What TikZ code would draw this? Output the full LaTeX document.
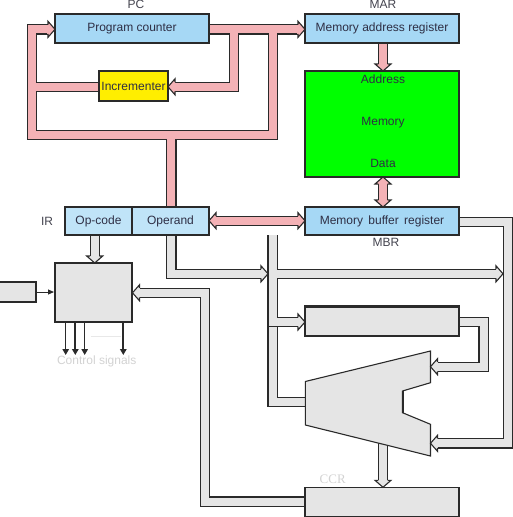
\documentclass[tikz,border=0pt]{standalone}
\usepackage{fontspec}
\setmainfont{Liberation Sans}
\newfontfamily\ccrfont{Liberation Serif}
\usetikzlibrary{arrows.meta}
\definecolor{edgec}{HTML}{2A2A2A}
\definecolor{pinkc}{HTML}{F4B2B6}
\definecolor{blueA}{HTML}{A6D8F5}
\definecolor{blueB}{HTML}{C0E4F8}
\definecolor{grayc}{HTML}{E5E5E5}
\definecolor{yelc}{HTML}{FFEE00}
\definecolor{grnc}{HTML}{00FF00}
\definecolor{txtc}{HTML}{2E2E44}
\definecolor{lblc}{HTML}{44444F}
\definecolor{faintc}{HTML}{D2D2D2}
\definecolor{fainterc}{HTML}{E8E8E8}
% pipe arrow head: #1 fill colour, #2 tip coordinate, #3 direction angle
\newcommand\phead[3]{%
  \begin{scope}[shift={#2},rotate=#3]
    \fill[#1] (-7.8,-4.2) rectangle (-6.4,4.2);
    \fill[#1] (-7,-8) -- (0,0) -- (-7,8) -- cycle;
    \draw[edgec, line width=1.1pt, line join=miter, miter limit=20]
      (-7,-4.6) -- (-7,-8) -- (0,0) -- (-7,8) -- (-7,4.6);
  \end{scope}}
\newcommand\pipeset[2]{\draw[pipeout] #2; \draw[pipein=#1] #2;}
\tikzset{
  pipeout/.style={line width=10.4pt, draw=edgec, line join=miter, line cap=butt},
  pipein/.style={line width=8pt, draw=#1, line join=miter, line cap=butt},
  box/.style={draw=edgec, line width=1.3pt, inner sep=0pt, text=txtc,
              font=\fontsize{12}{14}\selectfont},
  lbl/.style={inner sep=0pt, text=lblc, font=\fontsize{12}{14}\selectfont},
  sig/.style={draw=edgec, -{Triangle[length=6pt,width=6.5pt]}}
}
\begin{document}
\begin{tikzpicture}[x=1pt,y=-1pt]
\useasboundingbox (0,0) rectangle (512,517);

% ---------- pink bus ----------
\pipeset{pinkc}{
  (99,86.8) -- (32.2,86.8)
  (171.3,207) -- (171.3,134.8)
  (272.7,29.3) -- (272.7,134.8) -- (32.2,134.8) -- (32.2,29.3) -- (48,29.3)
  (209,29.3) -- (298,29.3)
  (234,29.3) -- (234,86.8) -- (175,86.8)
  (383,43) -- (383,64)
  (383,184) -- (383,200)
  (216,220.7) -- (298,220.7)}

% ---------- grey paths ----------
\pipeset{grayc}{
  (94.7,235) -- (94.7,256)
  (171.3,235) -- (171.3,273.8) -- (261,273.8)
  (272.5,235) -- (272.5,402) -- (306,402)
  (272.5,273.8) -- (496,273.8)
  (272.5,322) -- (298,322)
  (459,221.7) -- (508,221.7) -- (508,443.3) -- (437.5,443.3)
  (459,322) -- (483.5,322) -- (483.5,366.7) -- (437.5,366.7)
  (383,436) -- (383,480.3)
  (306,501.5) -- (205,501.5) -- (205,292.8) -- (139.5,292.8)}
\draw[edgec, line width=1.1pt] (267.3,326.7) -- (277.3,326.7);

% ---------- boxes ----------
\node[box, fill=blueA, minimum width=154pt, minimum height=29pt] (pc) at (132,28.5) {Program counter};
\node[box, fill=blueA, minimum width=154pt, minimum height=29pt] (mar) at (382,28.5) {Memory address register};
\node[box, fill=yelc, line width=2pt, minimum width=69pt, minimum height=30pt] (inc) at (133.5,86) {Incrementer};
\node[box, fill=grnc, minimum width=154pt, minimum height=106pt] (mem) at (382,124) {};
\node[box, fill=blueA, minimum width=154pt, minimum height=28pt] (mbr) at (382,221) {Memory\, buffer\, register};
\node[box, fill=blueB, minimum width=67pt, minimum height=28pt] (opc) at (98.5,221) {Op-code};
\node[box, fill=blueB, minimum width=77pt, minimum height=28pt] (opd) at (170.5,221) {Operand};
\node[box, fill=grayc, line width=2pt, minimum width=77pt, minimum height=59pt] (cu) at (93.5,292.5) {};
\node[box, fill=grayc, minimum width=37pt, minimum height=20pt] (ext) at (17.5,292) {};
\node[box, fill=grayc, minimum width=154pt, minimum height=29pt] (tmp) at (382,321.5) {};
\draw[edgec, line width=2pt] (tmp.north west) -- (tmp.north east);
\node[box, fill=grayc, minimum width=154pt, minimum height=29pt] (ccr) at (382,501.8) {};
% ALU
\draw[fill=grayc, draw=edgec, line width=1.1pt, line join=miter]
  (305.3,381.5) -- (430.5,351) -- (430.5,382.7) -- (402.5,391) -- (402.5,412.7)
  -- (430.5,424.3) -- (430.5,456) -- (305.3,425) -- cycle;
\draw[edgec, line width=2pt] (402.5,391) -- (402.5,412.7);

% ---------- heads ----------
\phead{pinkc}{(55,29.3)}{0}
\phead{pinkc}{(305,29.3)}{0}
\phead{pinkc}{(168,86.8)}{180}
\phead{pinkc}{(383,71)}{270}
\phead{pinkc}{(383,177)}{90}
\phead{pinkc}{(383,207)}{270}
\phead{pinkc}{(209,220.7)}{180}
\phead{pinkc}{(305,220.7)}{0}
\phead{grayc}{(94.7,263)}{270}
\phead{grayc}{(268,273.8)}{0}
\phead{grayc}{(503,273.8)}{0}
\phead{grayc}{(305,322)}{0}
\phead{grayc}{(430.5,366.7)}{180}
\phead{grayc}{(430.5,443.3)}{180}
\phead{grayc}{(383,487.3)}{270}
\phead{grayc}{(132.5,292.8)}{180}

% ---------- thin arrows ----------
\draw[edgec, line width=1pt, -{Triangle[length=6pt,width=5pt]}] (ext.east) -- (cu.west |- ext.east);
\coordinate (s1) at (65.7,355); \coordinate (s2) at (75.3,355);
\coordinate (s3) at (84.7,355); \coordinate (s4) at (123.3,355);
\draw[sig, line width=1.2pt] (cu.south -| s1) -- (s1);
\draw[sig, line width=1.8pt] (cu.south -| s2) -- (s2);
\draw[sig, line width=1.2pt] (cu.south -| s3) -- (s3);
\draw[sig, line width=1.8pt] (cu.south -| s4) -- (s4);
\draw[fainterc, line width=0.8pt] (90.7,336.7) -- (120.7,336.7);

% ---------- labels ----------
\node[lbl] (lpc) at (136,4.8) {PC};
\node[lbl] (lmar) at (383,4.8) {MAR};
\node[lbl] (lir) at (47,221.7) {IR};
\node[lbl] (lmbr) at (386,242.7) {MBR};
\node[lbl, text=txtc] (laddr) at (383,79.7) {Address};
\node[lbl, text=txtc] (lmem) at (383,122.7) {Memory};
\node[lbl, text=txtc] (ldata) at (383,163.7) {Data};
\node[lbl, text=faintc, anchor=base] (lcs) at (96.7,364) {Control signals};
\node[lbl, text=faintc, font=\ccrfont\fontsize{13}{15}\selectfont] (lccr) at (332.7,479.3) {CCR};
\end{tikzpicture}
\end{document}
